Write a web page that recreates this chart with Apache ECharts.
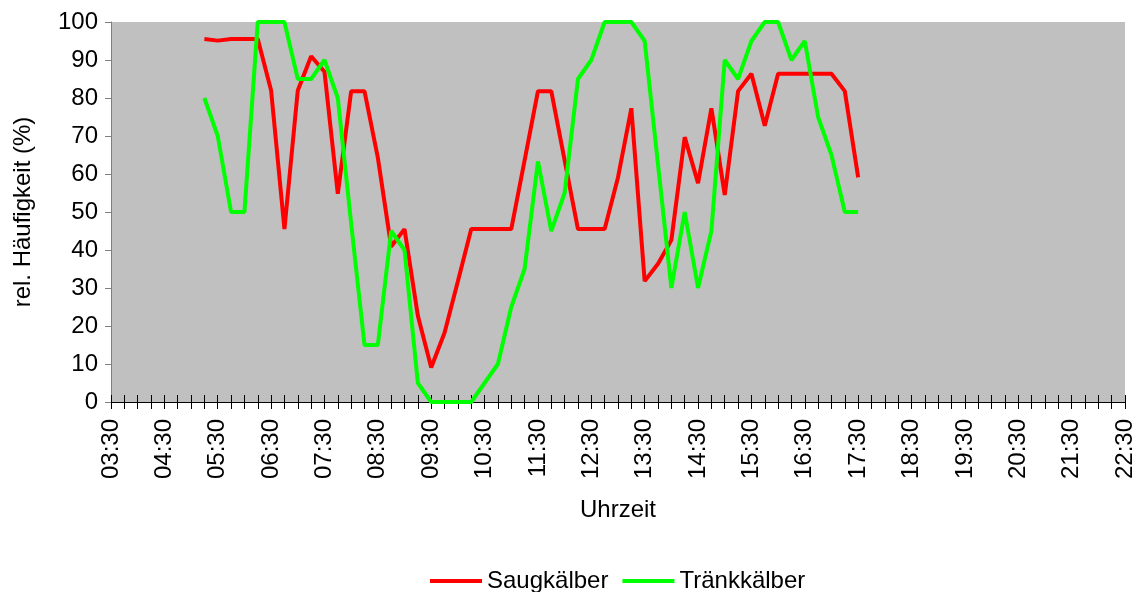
<!DOCTYPE html>
<html>
<head>
<meta charset="utf-8">
<script src="https://cdn.jsdelivr.net/npm/echarts@6/dist/echarts.min.js"></script>
<style>
  html, body { margin: 0; padding: 0; background: #fff; }
  #chart { width: 1139px; height: 592px; }
</style>
</head>
<body>
<div id="chart"></div>
<script>
// Uhrzeiten im 15-Minuten-Raster
var times = [
  "03:30","03:45","04:00","04:15","04:30","04:45","05:00","05:15","05:30","05:45",
  "06:00","06:15","06:30","06:45","07:00","07:15","07:30","07:45","08:00","08:15",
  "08:30","08:45","09:00","09:15","09:30","09:45","10:00","10:15","10:30","10:45",
  "11:00","11:15","11:30","11:45","12:00","12:15","12:30","12:45","13:00","13:15",
  "13:30","13:45","14:00","14:15","14:30","14:45","15:00","15:15","15:30","15:45",
  "16:00","16:15","16:30","16:45","17:00","17:15","17:30","17:45","18:00","18:15",
  "18:30","18:45","19:00","19:15","19:30","19:45","20:00","20:15","20:30","20:45",
  "21:00","21:15","21:30","21:45","22:00","22:15","22:30"
];

var saugkaelber = [
  null, null, null, null, null, null, null,
  95.5, 95.1, 95.5, 95.5, 95.5, 82, 45.5, 82, 91, 86.9,
  54.8, 81.8, 81.8, 64.3, 40.9, 45.5, 22.7, 9.1, 18.2, 31.8,
  45.5, 45.5, 45.5, 45.5, 63.6, 81.8, 81.8, 63.6, 45.5, 45.5,
  45.5, 59.1, 77.3, 31.8, 36.4, 42.6, 69.7, 57.6, 77.3, 54.5,
  81.8, 86.4, 72.7, 86.4, 86.4, 86.4, 86.4, 86.4, 81.8, 59.1,
  null, null, null, null, null, null, null, null, null, null,
  null, null, null, null, null, null, null, null, null, null
];

var traenkkaelber = [
  null, null, null, null, null, null, null,
  80, 70, 50, 50, 100, 100, 100, 85, 85, 90,
  80, 47, 15, 15, 45, 40, 5, 0, 0, 0,
  0, 5, 10, 25, 35, 63.3, 45, 55, 85, 90,
  100, 100, 100, 95, 62.5, 30, 50, 30, 45, 90,
  85, 95, 100, 100, 90, 95, 75, 65, 50, 50,
  null, null, null, null, null, null, null, null, null, null,
  null, null, null, null, null, null, null, null, null, null
];

var yTicks = [0, 100, 10]; // min, max, interval

var myChart = echarts.init(document.getElementById("chart"));
var font = "Liberation Sans, Arial, sans-serif";

var option = {
  animation: false,
  textStyle: { fontFamily: font },
  grid: {
    left: 111,
    right: 14,
    top: 22,
    bottom: 190,
    backgroundColor: "#c0c0c0",
    show: true,
    borderWidth: 0
  },
  legend: {
    left: 425,
    top: 564,
    icon: "rect",
    itemWidth: 52,
    itemHeight: 4,
    itemGap: 14,
    textStyle: { fontSize: 24, color: "#000", fontFamily: font },
    data: ["Saugkälber", "Tränkkälber"]
  },
  xAxis: [
    {
      type: "category",
      data: times,
      boundaryGap: false,
      name: "Uhrzeit",
      nameLocation: "middle",
      nameGap: 96,
      nameTextStyle: { fontSize: 24, color: "#000", fontFamily: font },
      axisLine: { lineStyle: { color: "#000", width: 1 } },
      axisTick: { interval: 0, length: 7, lineStyle: { color: "#000" } },
      axisLabel: {
        interval: 3,
        rotate: 90,
        margin: 17,
        fontSize: 24,
        color: "#000",
        fontFamily: font
      },
      splitLine: { show: false }
    },
    {
      // zweite Achse nur fuer die nach innen zeigenden Tickstriche (Kreuz-Ticks)
      type: "category",
      data: times,
      boundaryGap: false,
      position: "bottom",
      axisLine: { show: false },
      axisTick: { show: true, inside: true, interval: 0, length: 7, lineStyle: { color: "#000" } },
      axisLabel: { show: false },
      splitLine: { show: false }
    }
  ],
  yAxis: {
    type: "value",
    min: yTicks[0],
    max: yTicks[1],
    interval: yTicks[2],
    name: "rel. Häufigkeit (%)",
    nameLocation: "middle",
    nameGap: 76,
    nameTextStyle: { fontSize: 24, color: "#000", fontFamily: font },
    axisLine: { show: true, lineStyle: { color: "#808080", width: 1 } },
    axisTick: { show: true, length: 6, lineStyle: { color: "#808080" } },
    axisLabel: { fontSize: 24, color: "#000", margin: 13, fontFamily: font },
    splitLine: { show: false }
  },
  series: [
    {
      name: "Saugkälber",
      type: "line",
      data: saugkaelber,
      symbol: "none",
      color: "#ff0000",
      lineStyle: { color: "#ff0000", width: 4 }
    },
    {
      name: "Tränkkälber",
      type: "line",
      data: traenkkaelber,
      symbol: "none",
      color: "#00ff00",
      lineStyle: { color: "#00ff00", width: 4 }
    }
  ]
};

myChart.setOption(option);
</script>
</body>
</html>
